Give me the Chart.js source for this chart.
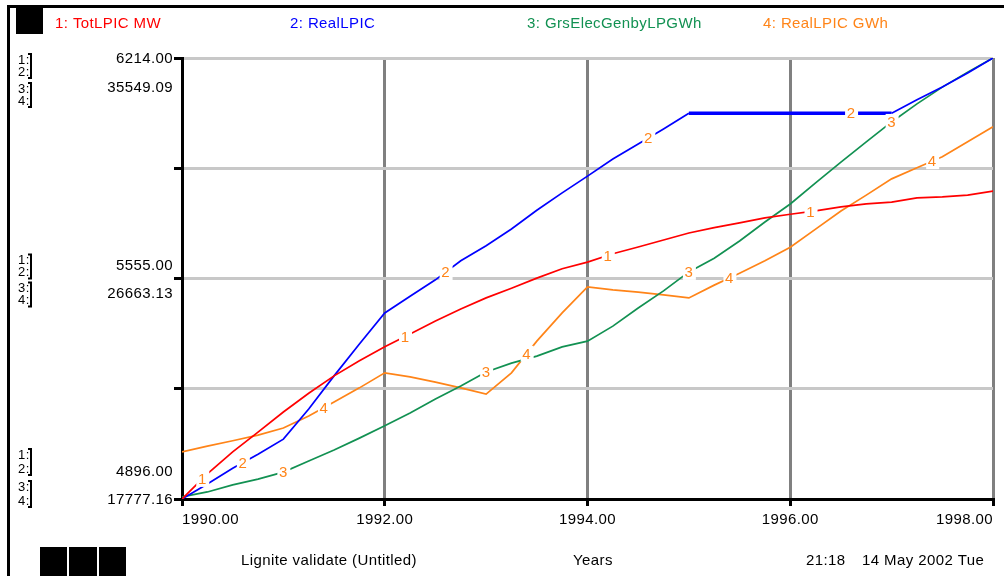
<!DOCTYPE html>
<html>
<head>
    <title>Lignite validate (Untitled)</title>
    <style>
        body { margin: 0; padding: 0; background: #fff; }
        #chartBox { width: 1004px; height: 576px; position: relative; }
    </style>
    <script src="https://cdn.jsdelivr.net/npm/chart.js"></script>
</head>
<body>

    <div id="chartBox">
        <canvas id="stellaGraph"></canvas>
    </div>

    <script>
        // time axis, quarter year steps
        const years = [1990, 1990.25, 1990.5, 1990.75, 1991, 1991.25, 1991.5, 1991.75,
                       1992, 1992.25, 1992.5, 1992.75, 1993, 1993.25, 1993.5, 1993.75,
                       1994, 1994.25, 1994.5, 1994.75, 1995, 1995.25, 1995.5, 1995.75,
                       1996, 1996.25, 1996.5, 1996.75, 1997, 1997.25, 1997.5, 1997.75, 1998];

        // 1: TotLPIC MW
        const totLpicMw = [4896, 4971, 5037, 5096, 5156, 5212, 5264, 5309,
                           5351, 5389, 5428, 5464, 5497, 5526, 5556, 5584,
                           5604, 5629, 5649, 5670, 5691, 5707, 5721, 5736,
                           5747, 5757, 5769, 5778, 5783, 5796, 5799, 5804, 5816];

        // 2: RealLPIC
        const realLpic = [4896, 4941, 4988, 5030, 5075, 5165, 5264, 5359,
                          5452, 5502, 5551, 5608, 5653, 5703, 5759, 5811,
                          5861, 5912, 5957, 6002, 6049, 6049, 6049, 6049,
                          6049, 6049, 6049, 6049, 6049, 6089, 6127, 6169, 6214];

        // 3: GrsElecGenbyLPGWh
        const grsElecGen = [17866, 18061, 18346, 18577, 18861, 19305, 19750, 20230,
                            20727, 21243, 21811, 22327, 22895, 23251, 23535, 23908,
                            24139, 24744, 25472, 26165, 26930, 27480, 28174, 28938,
                            29666, 30519, 31355, 32172, 32972, 33701, 34376, 34980, 35549];

        // 4: RealLPIC GWh
        const realLpicGwh = [19679, 19910, 20123, 20354, 20638, 21118, 21687, 22256,
                             22860, 22700, 22487, 22256, 22007, 22860, 24139, 25277,
                             26325, 26201, 26112, 26005, 25881, 26396, 26876, 27374,
                             27925, 28653, 29382, 30022, 30679, 31124, 31568, 32172, 32777];

        const seriesNames = ['1: TotLPIC MW', '2: RealLPIC', '3: GrsElecGenbyLPGWh', '4: RealLPIC GWh'];
        const axis12Labels = ['6214.00', '5555.00', '4896.00'];
        const axis34Labels = ['35549.09', '26663.13', '17777.16'];

        const colors = ['#ff0000', '#0000ff', '#129152', '#ff8418'];
        const labelColor = '#ff8418';
        const FONT = '"Liberation Sans", Arial, sans-serif';
        const SPACING = '0.4px';

        function lerpAt(data, x) {
            for (let i = 0; i < years.length - 1; i++) {
                if (x >= years[i] && x <= years[i + 1]) {
                    const t = (x - years[i]) / (years[i + 1] - years[i]);
                    return data[i] + t * (data[i + 1] - data[i]);
                }
            }
            return data[data.length - 1];
        }

        // wider glyph spacing, the old graph pad text runs loose
        const looseText = {
            id: 'looseText',
            beforeDraw(chart) {
                chart.ctx.letterSpacing = SPACING;
            }
        };

        // numbered tags sitting on each curve, like the old STELLA graph pad
        const curveTags = {
            id: 'curveTags',
            afterDatasetsDraw(chart) {
                const ctx = chart.ctx;
                const xs = chart.scales.x;
                const starts = [1990.2, 1990.6, 1991.0, 1991.4];
                ctx.save();
                ctx.font = '15px ' + FONT;
                ctx.textAlign = 'center';
                ctx.textBaseline = 'middle';
                chart.data.datasets.forEach((ds, i) => {
                    const ys = chart.scales[ds.yAxisID];
                    const vals = ds.data.map(p => p.y);
                    for (let k = 0; k < 4; k++) {
                        const yr = starts[i] + 2 * k;
                        const px = xs.getPixelForValue(yr);
                        const py = ys.getPixelForValue(lerpAt(vals, yr));
                        ctx.fillStyle = '#fff';
                        ctx.fillRect(px - 6, py - 8, 13, 16);
                        ctx.fillStyle = labelColor;
                        ctx.fillText(String(i + 1), px, py + 1);
                    }
                });
                ctx.restore();
            }
        };

        // frame, legend line, left scale labels and footer
        const padDecor = {
            id: 'padDecor',
            afterDraw(chart) {
                const ctx = chart.ctx;
                const y1 = chart.scales.y1;
                ctx.save();
                ctx.letterSpacing = SPACING;

                ctx.strokeStyle = '#000';
                ctx.lineWidth = 3;
                ctx.beginPath();
                ctx.moveTo(7, 6.5); ctx.lineTo(1004, 6.5);
                ctx.moveTo(8.5, 6); ctx.lineTo(8.5, 576);
                ctx.stroke();
                ctx.fillStyle = '#000';
                ctx.fillRect(16, 8, 27, 26);
                ctx.fillRect(40, 547, 27, 29);
                ctx.fillRect(69, 547, 28, 29);
                ctx.fillRect(99, 547, 27, 29);

                ctx.font = '15px ' + FONT;
                ctx.textBaseline = 'middle';
                ctx.textAlign = 'left';
                const legendX = [55, 290, 527, 763];
                seriesNames.forEach((n, i) => {
                    ctx.fillStyle = colors[i];
                    ctx.fillText(n, legendX[i], 24);
                });

                const tickPx = [y1.getPixelForValue(y1.max), (y1.top + y1.bottom) / 2, y1.getPixelForValue(y1.min)];
                const valOff = [[1, 30], [-13, 15], [-27, 1]];
                const numOff = [[2, 14, 31, 43], [-18, -6, 10, 22], [-44, -30, -12, 2]];
                for (let g = 0; g < 3; g++) {
                    const t = tickPx[g];
                    ctx.fillStyle = '#000';
                    ctx.font = '15px ' + FONT;
                    ctx.textAlign = 'right';
                    ctx.fillText(axis12Labels[g], 173, t + valOff[g][0]);
                    ctx.fillText(axis34Labels[g], 173, t + valOff[g][1]);
                    ctx.font = '13px ' + FONT;
                    ctx.textAlign = 'left';
                    for (let n = 0; n < 4; n++) {
                        ctx.fillText((n + 1) + ':', 18, t + numOff[g][n]);
                    }
                    ctx.lineWidth = 2;
                    for (let b = 0; b < 2; b++) {
                        const top = t + numOff[g][b * 2] - 6;
                        const bot = t + numOff[g][b * 2 + 1] + 6;
                        ctx.beginPath();
                        ctx.moveTo(28, top); ctx.lineTo(31, top);
                        ctx.lineTo(31, bot); ctx.lineTo(28, bot);
                        ctx.stroke();
                    }
                }

                ctx.font = '15px ' + FONT;
                ctx.textAlign = 'left';
                ctx.fillStyle = '#000';
                ctx.fillText('Lignite validate (Untitled)', 241, 561);
                ctx.fillText('Years', 573, 561);
                ctx.fillText('21:18', 806, 561);
                ctx.fillText('14 May 2002 Tue', 862, 561);
                ctx.restore();
            }
        };

        function toPoints(vals) {
            return vals.map((v, i) => ({ x: years[i], y: v }));
        }

        const ctxStella = document.getElementById('stellaGraph').getContext('2d');
        new Chart(ctxStella, {
            type: 'line',
            data: {
                datasets: [
                    { label: seriesNames[0], data: toPoints(totLpicMw), yAxisID: 'y1', borderColor: colors[0] },
                    { label: seriesNames[1], data: toPoints(realLpic), yAxisID: 'y1', borderColor: colors[1],
                      segment: { borderWidth: c => c.p0.parsed.y === c.p1.parsed.y ? 3.5 : 1.7 } },
                    { label: seriesNames[2], data: toPoints(grsElecGen), yAxisID: 'y2', borderColor: colors[2] },
                    { label: seriesNames[3], data: toPoints(realLpicGwh), yAxisID: 'y2', borderColor: colors[3] }
                ]
            },
            options: {
                responsive: true,
                maintainAspectRatio: false,
                animation: false,
                layout: { padding: { top: 58, right: 11, left: 0, bottom: 0 } },
                elements: {
                    line: { borderWidth: 1.7, tension: 0 },
                    point: { radius: 0 }
                },
                plugins: {
                    legend: { display: false },
                    tooltip: { enabled: false }
                },
                scales: {
                    x: {
                        type: 'linear',
                        min: 1990,
                        max: 1998,
                        afterFit: s => { s.height = 77; },
                        ticks: {
                            stepSize: 2,
                            align: 'inner',
                            padding: 5,
                            color: '#000',
                            font: { size: 15, family: FONT },
                            callback: v => v.toFixed(2)
                        },
                        grid: {
                            color: c => c.tick && c.tick.value === 1990 ? 'rgba(0,0,0,0)' : '#808080',
                            lineWidth: 3,
                            tickColor: '#000',
                            tickLength: 7
                        },
                        border: { color: '#000', width: 3 }
                    },
                    y1: {
                        type: 'linear',
                        position: 'left',
                        min: parseFloat(axis12Labels[2]),
                        max: parseFloat(axis12Labels[0]),
                        afterFit: s => { s.width = 182; },
                        afterBuildTicks: s => {
                            const q = (s.max - s.min) / 4;
                            s.ticks = [0, 1, 2, 3, 4].map(k => ({ value: s.min + q * k }));
                        },
                        ticks: { display: false },
                        grid: {
                            color: c => c.index === 0 ? 'rgba(0,0,0,0)' : '#c8c8c8',
                            lineWidth: 3,
                            borderDash: [2, 1],
                            tickColor: '#000',
                            tickLength: 8
                        },
                        border: { color: '#000', width: 3 }
                    },
                    y2: {
                        type: 'linear',
                        display: false,
                        min: parseFloat(axis34Labels[2]),
                        max: parseFloat(axis34Labels[0])
                    }
                }
            },
            plugins: [looseText, curveTags, padDecor]
        });
    </script>

</body>
</html>
